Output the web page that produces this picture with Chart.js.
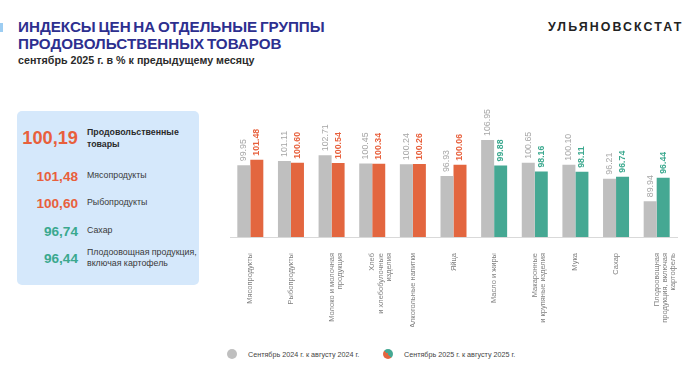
<!DOCTYPE html>
<html lang="ru">
<head>
<meta charset="utf-8">
<script src="https://cdn.jsdelivr.net/npm/chart.js@4.4.1/dist/chart.umd.min.js"></script>
<style>
  html, body { margin: 0; padding: 0; background: #fff; }
  body { width: 700px; height: 368px; position: relative; overflow: hidden; font-family: "Liberation Sans", Arial, sans-serif; }
  .mark { position: absolute; left: 0; top: 23px; width: 3px; height: 9px; background: #9dcdf2; }
  .title { position: absolute; left: 18px; top: 18px; color: #2d2f8f; font-weight: bold; font-size: 15.2px; line-height: 17px; word-spacing: -1.5px; }
  .subtitle { position: absolute; left: 18px; top: 54px; color: #2b2b2b; font-weight: bold; font-size: 10.7px; }
  .brand { position: absolute; left: 548px; top: 20px; color: #222; font-weight: bold; font-size: 12.4px; letter-spacing: 2.1px; }
  .panel { position: absolute; left: 17px; top: 111px; width: 182px; height: 174px; background: #d5e8fb; border-radius: 5px; }
  .row { position: absolute; left: 0; width: 182px; }
  .val { position: absolute; right: 121px; font-weight: bold; white-space: nowrap; transform: translateY(-50%); }
  .lab { position: absolute; left: 70px; color: #3a3a3a; font-size: 8.8px; line-height: 11.5px; white-space: nowrap; transform: translateY(-50%); }
  .legend { position: absolute; top: 349px; font-size: 7.2px; color: #444; }
  .legend span { position: absolute; white-space: nowrap; top: 1px; }
  .dot { position: absolute; width: 10px; height: 10px; border-radius: 50%; }
  #wrap { position: absolute; left: 0; top: 0; width: 700px; height: 368px; }
</style>
</head>
<body>
<div class="mark"></div>
<div class="title">ИНДЕКСЫ ЦЕН НА ОТДЕЛЬНЫЕ ГРУППЫ<br>ПРОДОВОЛЬСТВЕННЫХ ТОВАРОВ</div>
<div class="subtitle">сентябрь 2025 г. в % к предыдущему месяцу</div>
<div class="brand">УЛЬЯНОВСКСТАТ</div>
<div class="panel" id="panel"></div>
<div id="legend"></div>
<div id="wrap"><canvas id="chart" width="700" height="368"></canvas></div>
<script>
const categories = [
  'Мясопродукты',
  'Рыбопродукты',
  ['Молоко и молочная', 'продукция'],
  ['Хлеб', 'и хлебобулочные', 'изделия'],
  'Алкогольные напитки',
  'Яйца',
  'Масло и жиры',
  ['Макаронные', 'и крупяные изделия'],
  'Мука',
  'Сахар',
  ['Плодоовощная', 'продукция, включая', 'картофель']
];
const sep2024 = [99.95, 101.11, 102.71, 100.45, 100.24, 96.93, 106.95, 100.65, 100.10, 96.21, 89.94];
const sep2025 = [101.48, 100.60, 100.54, 100.34, 100.26, 100.06, 99.88, 98.16, 98.11, 96.74, 96.44];
const seriesNames = ['Сентябрь 2024 г. к августу 2024 г.', 'Сентябрь 2025 г. к августу 2025 г.'];

const panelValues = ['100,19', '101,48', '100,60', '96,74', '96,44'];
const panelLabels = [['Продовольственные', 'товары'], ['Мясопродукты'], ['Рыбопродукты'], ['Сахар'], ['Плодоовощная продукция,', 'включая картофель']];

const GRAY = '#bfbfbf';
const ORANGE = '#e3663f';
const GREEN = '#45a893';
const ORANGE_TXT = '#e8603c';
const GREEN_TXT = '#3aa88e';
const FONT = '"Liberation Sans", Arial, sans-serif';

// left panel
const panel = document.getElementById('panel');
const rowY = [27, 65, 92, 119.5, 146.5];
panelValues.forEach((v, i) => {
  const up = parseFloat(v.replace(',', '.')) >= 100;
  const row = document.createElement('div');
  row.className = 'row';
  row.style.top = rowY[i] + 'px';
  const val = document.createElement('div');
  val.className = 'val';
  val.textContent = v;
  val.style.color = up ? ORANGE_TXT : GREEN_TXT;
  val.style.fontSize = i === 0 ? '18.2px' : '13.6px';
  const lab = document.createElement('div');
  lab.className = 'lab';
  lab.innerHTML = panelLabels[i].join('<br>');
  if (i === 0) { lab.style.fontWeight = 'bold'; lab.style.color = '#2b2b2b'; }
  row.appendChild(val);
  row.appendChild(lab);
  panel.appendChild(row);
});

// legend
const legend = document.getElementById('legend');
const legendX = [227, 383];
seriesNames.forEach((name, i) => {
  const item = document.createElement('div');
  item.className = 'legend';
  item.style.left = legendX[i] + 'px';
  const dot = document.createElement('div');
  dot.className = 'dot';
  dot.style.background = i === 0 ? GRAY : 'linear-gradient(45deg, ' + ORANGE + ' 50%, ' + GREEN + ' 50%)';
  const txt = document.createElement('span');
  txt.style.left = '21px';
  txt.textContent = name;
  item.appendChild(dot);
  item.appendChild(txt);
  legend.appendChild(item);
});

// value labels above bars, rotated
const valueLabels = {
  id: 'valueLabels',
  afterDatasetsDraw(chart) {
    const ctx = chart.ctx;
    chart.data.datasets.forEach((ds, i) => {
      const meta = chart.getDatasetMeta(i);
      meta.data.forEach((bar, j) => {
        const v = ds.data[j];
        ctx.save();
        ctx.translate(bar.x, bar.y - 4);
        ctx.rotate(-Math.PI / 2);
        ctx.textAlign = 'left';
        ctx.textBaseline = 'middle';
        if (i === 0) {
          ctx.font = '8.8px ' + FONT;
          ctx.fillStyle = '#a6a6a6';
        } else {
          ctx.font = 'bold 8.8px ' + FONT;
          ctx.fillStyle = v >= 100 ? ORANGE_TXT : GREEN_TXT;
        }
        ctx.fillText(v.toFixed(2), 0, 0);
        ctx.restore();
      });
    });
  }
};

const ctx = document.getElementById('chart').getContext('2d');
new Chart(ctx, {
  type: 'bar',
  data: {
    labels: categories,
    datasets: [
      {
        label: seriesNames[0],
        data: sep2024,
        backgroundColor: GRAY,
        categoryPercentage: 0.64,
        barPercentage: 1.0
      },
      {
        label: seriesNames[1],
        data: sep2025,
        backgroundColor: sep2025.map(v => v >= 100 ? ORANGE : GREEN),
        categoryPercentage: 0.64,
        barPercentage: 1.0
      }
    ]
  },
  options: {
    responsive: false,
    animation: false,
    layout: { padding: { left: 230, right: 23, top: 111, bottom: 41 } },
    plugins: {
      legend: { display: false },
      tooltip: { enabled: false }
    },
    scales: {
      x: {
        grid: { display: false },
        border: { color: '#d9d9d9', width: 1 },
        ticks: {
          minRotation: 90,
          maxRotation: 90,
          autoSkip: false,
          padding: 8,
          color: '#808080',
          font: { family: FONT, size: 7.5, lineHeight: 1.1 }
        },
        afterFit(scale) { scale.height = 90; }
      },
      y: { display: false, min: 80, max: 115 }
    }
  },
  plugins: [valueLabels]
});
</script>
</body>
</html>
